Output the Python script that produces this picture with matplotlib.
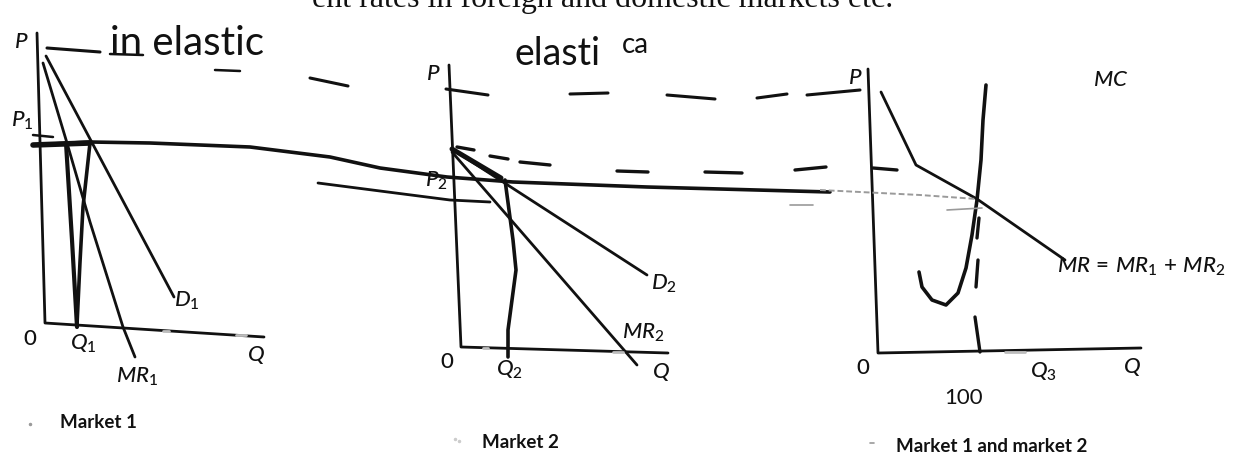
import matplotlib
matplotlib.use("Agg")
import matplotlib.pyplot as plt

plt.rcParams["mathtext.fontset"] = "custom"
plt.rcParams["mathtext.it"] = "Lato:italic:medium"
plt.rcParams["mathtext.rm"] = "Lato:medium"
plt.rcParams["mathtext.bf"] = "Lato:bold"

INK = "#111111"
FAINT = "#9a9a9a"

# ---- page layout, in page pixels (x to the right, y downwards) ----
# Market 1
m1_axes_x = [37, 45, 264]
m1_axes_y = [33, 323, 337]
m1_demand_x = [46, 174]
m1_demand_y = [56, 297]
m1_mr_x = [43, 67, 90, 123, 135]
m1_mr_y = [63, 143, 222, 327, 357]

# Market 2
m2_axes_x = [449, 461, 668]
m2_axes_y = [65, 347, 353]
m2_demand_x = [452, 647]
m2_demand_y = [149, 275]
m2_mr_x = [452, 637]
m2_mr_y = [152, 365]

# Market 1 and market 2
m3_axes_x = [868, 878, 1141]
m3_axes_y = [69, 353, 348]
m3_mr_x = [881, 916, 977, 1065]
m3_mr_y = [92, 165, 199, 260]

# pen annotations
pen_p1_x = [33, 90, 150, 250, 330, 380, 447, 513, 647, 830]
pen_p1_y = [145, 142, 143, 147, 157, 168, 177, 182, 187, 192]
pen_p1_faint_x = [820, 920, 977]
pen_p1_faint_y = [190, 195, 199]
pen_low_x = [318, 380, 450, 490]
pen_low_y = [183, 191, 200, 202]
pen_q1a_x = [66, 72, 77]
pen_q1a_y = [143, 240, 327]
pen_q1b_x = [90, 83, 80, 77]
pen_q1b_y = [143, 207, 262, 325]
pen_q2_x = [505, 513, 516, 508, 508]
pen_q2_y = [180, 240, 270, 330, 357]
pen_arrow_x = [452, 501]
pen_arrow_y = [149, 178]
pen_mc_x = [986, 983, 981, 977, 972, 966, 958, 946, 932, 922, 919]
pen_mc_y = [85, 120, 160, 200, 235, 268, 293, 305, 300, 287, 272]

# dashed pen strokes: (x0, y0, x1, y1)
pen_top_dashes = [
    (47, 48, 100, 52), (310, 78, 348, 86), (446, 89, 488, 95),
    (570, 94, 608, 93), (667, 95, 715, 99), (757, 98, 787, 94),
    (807, 95, 860, 90),
]
pen_mid_dashes = [
    (457, 147, 474, 150), (490, 156, 508, 159), (520, 162, 550, 165),
    (617, 171, 648, 172), (705, 172, 742, 173), (795, 170, 826, 167),
    (873, 168, 897, 170),
]
pen_q3_dashes = [(979, 218, 977, 238), (978, 260, 976, 287), (975, 317, 980, 352)]
pen_ticks = [(33, 135, 53, 137), (110, 54, 143, 55), (215, 70, 240, 71)]
faint_dashes = [(790, 205, 813, 205), (947, 210, 982, 208)]
scan_marks = [(163, 331, 169, 331), (236, 335, 246, 335), (483, 348, 488, 348),
              (613, 352, 623, 352), (1005, 352, 1025, 352)]

fig = plt.figure(figsize=(12.34, 4.57), dpi=100)
ax = fig.add_axes([0, 0, 1, 1])
ax.set_xlim(0, 1234)
ax.set_ylim(457, 0)
ax.axis("off")


def draw(xs, ys, lw=2.2, color=INK, **kw):
    ax.plot(xs, ys, color=color, lw=lw, solid_capstyle="round",
            solid_joinstyle="round", **kw)


def strokes(segs, lw=2.4, color=INK):
    for x0, y0, x1, y1 in segs:
        draw([x0, x1], [y0, y1], lw=lw, color=color)


# printed diagram lines
for xs, ys in [(m1_axes_x, m1_axes_y), (m1_demand_x, m1_demand_y), (m1_mr_x, m1_mr_y),
               (m2_axes_x, m2_axes_y), (m2_demand_x, m2_demand_y), (m2_mr_x, m2_mr_y),
               (m3_axes_x, m3_axes_y), (m3_mr_x, m3_mr_y)]:
    draw(xs, ys, lw=2.0)
strokes(scan_marks, lw=2.0, color="#bdbdbd")

# pen marks
draw(pen_p1_x, pen_p1_y, lw=2.6)
draw([33, 90], [145, 143], lw=4.0)
draw(pen_p1_faint_x, pen_p1_faint_y, lw=1.4, color=FAINT, ls=(0, (3, 1.5)))
draw(pen_low_x, pen_low_y, lw=2.0)
draw(pen_q1a_x, pen_q1a_y, lw=3.0)
draw(pen_q1b_x, pen_q1b_y, lw=2.6)
draw(pen_q2_x, pen_q2_y, lw=2.6)
draw(pen_arrow_x, pen_arrow_y, lw=3.6)
draw(pen_mc_x, pen_mc_y, lw=2.6)
strokes(pen_top_dashes, lw=2.2)
strokes(pen_mid_dashes, lw=2.4)
strokes(pen_q3_dashes, lw=2.4)
strokes(pen_ticks, lw=1.8)
strokes(faint_dashes, lw=1.2, color=FAINT)

# running text at the top of the page (its upper half lies beyond the page edge)
ax.text(893, 7.5, "ent rates in foreign and domestic markets etc.", ha="right",
        va="baseline", fontsize=23, family="Liberation Serif", color=INK)

# handwriting
hand = dict(family="Lato", color=INK, va="baseline", ha="left")
ax.text(110, 55, "in elastic", fontsize=29, **hand)
ax.text(515, 65, "elasti", fontsize=27, **hand)
ax.text(622, 53, "ca", fontsize=20, **hand)
ax.text(944, 404, "100", fontsize=16, **hand)

# printed labels
lab = dict(ha="center", va="center", color=INK, fontsize=16)
labels = [
    (21, 42, r"$P$"), (22, 121, r"$P_1$"), (30, 339, r"$\mathrm{0}$"),
    (83, 344, r"$Q_1$"), (256, 355, r"$Q$"), (137, 377, r"$MR_1$"),
    (187, 301, r"$D_1$"),
    (433, 74, r"$P$"), (436, 181, r"$P_2$"), (447, 362, r"$\mathrm{0}$"),
    (509, 370, r"$Q_2$"), (661, 372, r"$Q$"), (643, 333, r"$MR_2$"),
    (664, 284, r"$D_2$"),
    (855, 78, r"$P$"), (1111, 80, r"$MC$"), (863, 368, r"$\mathrm{0}$"),
    (1043, 372, r"$Q_3$"), (1132, 367, r"$Q$"),
    (1141, 267, r"$MR\,=\,MR_1\,+\,MR_2$"),
]
for x, y, s in labels:
    ax.text(x, y, s, **lab)

cap = dict(ha="center", va="center", color=INK, fontsize=13.5, family="Lato",
           fontweight="bold")
ax.text(98, 423, "Market 1", **cap)
ax.text(520, 443, "Market 2", **cap)
ax.text(992, 447, "Market 1 and market 2", **cap)

# scanner specks
ax.plot([30], [424], "o", ms=1.5, color=FAINT)
ax.plot([455, 459], [439, 441], "o", ms=1.5, color="#cccccc")
strokes([(870, 443, 874, 443)], lw=1.2, color=FAINT)

fig.savefig("out.png", dpi=100)
